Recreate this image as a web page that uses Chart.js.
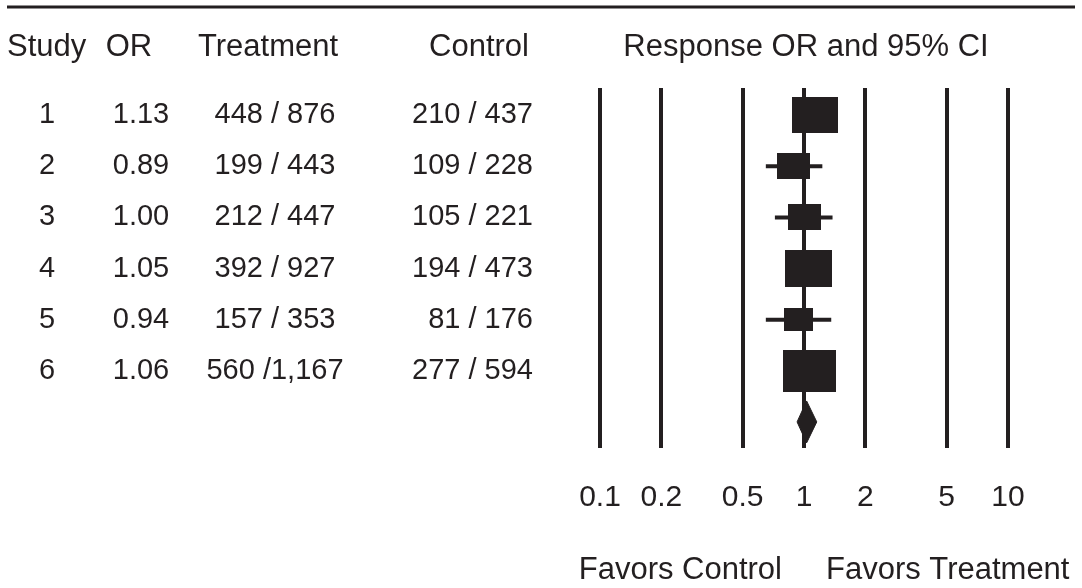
<!DOCTYPE html>
<html>
<head>
<meta charset="utf-8">
<script src="https://cdn.jsdelivr.net/npm/chart.js@4"></script>
<style>
  html, body { margin: 0; padding: 0; background: #fff; }
  canvas { display: block; }
</style>
</head>
<body>
<canvas id="forest" width="1082" height="588"></canvas>
<script>
const studies = ['1', '2', '3', '4', '5', '6'];
const oddsRatios = [1.13, 0.89, 1.00, 1.05, 0.94, 1.06];
const orLabels = ['1.13', '0.89', '1.00', '1.05', '0.94', '1.06'];
const ciLow = [0.90, 0.65, 0.72, 0.84, 0.65, 0.87];
const ciHigh = [1.42, 1.23, 1.38, 1.32, 1.36, 1.29];
const treatTotal = [876, 443, 447, 927, 353, 1167];
const ctrlTotal = [437, 228, 221, 473, 176, 594];
const treatLabels = ['448 / 876', '199 / 443', '212 / 447', '392 / 927', '157 / 353', '560 /1,167'];
const ctrlLabels = ['210 / 437', '109 / 228', '105 / 221', '194 / 473', '81 / 176', '277 / 594'];
const pooledOR = 1.03;
const pooledLow = 0.925;
const pooledHigh = 1.155;
const tickValues = [0.1, 0.2, 0.5, 1, 2, 5, 10];

const ink = '#231f20';
const family = '"Liberation Sans", Arial, sans-serif';
const headFont = '31px ' + family;
const rowFont = '29px ' + family;

// box area follows the study size
function makeBox(n) {
  const s = Math.sqrt(n);
  const c = document.createElement('canvas');
  c.width = Math.round(s * 1.265);
  c.height = Math.round(s);
  const g = c.getContext('2d');
  g.fillStyle = ink;
  g.fillRect(0, 0, c.width, c.height);
  return c;
}
const boxes = studies.map((_, i) => makeBox(treatTotal[i] + ctrlTotal[i]));

const pooledRow = studies.length + 1;
const diamond = [
  {x: pooledLow, y: pooledRow},
  {x: pooledOR, y: pooledRow - 0.41},
  {x: pooledHigh, y: pooledRow},
  {x: pooledOR, y: pooledRow + 0.41},
  {x: pooledLow, y: pooledRow}
];

const datasets = [{
  label: 'OR',
  data: oddsRatios.map((v, i) => ({x: v, y: i + 1})),
  pointStyle: boxes,
  pointRadius: 5,
  pointBorderWidth: 0,
  order: 0
}, {
  label: 'Pooled',
  data: diamond,
  showLine: true,
  fill: 'shape',
  backgroundColor: ink,
  borderColor: ink,
  borderWidth: 1,
  pointRadius: 0,
  order: 1
}];
studies.forEach((s, i) => {
  datasets.push({
    label: 'CI ' + s,
    data: [{x: ciLow[i], y: i + 1}, {x: ciHigh[i], y: i + 1}],
    showLine: true,
    borderColor: ink,
    borderWidth: 4,
    borderCapStyle: 'butt',
    pointRadius: 0,
    order: 2
  });
});

const tablePlugin = {
  id: 'table',
  afterDraw(chart) {
    const {ctx} = chart;
    const ys = chart.scales.y;
    const xs = chart.scales.x;
    ctx.save();
    ctx.fillStyle = ink;
    ctx.strokeStyle = ink;
    ctx.lineWidth = 3;
    ctx.beginPath();
    ctx.moveTo(7, 7);
    ctx.lineTo(1075, 7);
    ctx.stroke();

    ctx.font = headFont;
    ctx.textBaseline = 'middle';
    ctx.textAlign = 'left';
    ctx.fillText('Study', 7, 47);
    ctx.textAlign = 'center';
    ctx.fillText('OR', 129, 47);
    ctx.fillText('Treatment', 268, 47);
    ctx.fillText('Control', 479, 47);
    ctx.fillText('Response OR and 95% CI', 806, 47);

    ctx.font = rowFont;
    studies.forEach((s, i) => {
      const y = ys.getPixelForValue(i + 1);
      ctx.textAlign = 'center';
      ctx.fillText(s, 47, y);
      ctx.fillText(orLabels[i], 141, y);
      ctx.fillText(treatLabels[i], 275, y);
      ctx.textAlign = 'right';
      ctx.fillText(ctrlLabels[i], 533, y);
    });

    const one = xs.getPixelForValue(1);
    ctx.font = headFont;
    ctx.textAlign = 'right';
    ctx.fillText('Favors Control', one - 22, 570);
    ctx.textAlign = 'left';
    ctx.fillText('Favors Treatment', one + 22, 570);
    ctx.restore();
  }
};

new Chart('forest', {
  type: 'scatter',
  data: {datasets},
  options: {
    responsive: false,
    animation: false,
    devicePixelRatio: 1,
    layout: {padding: {left: 600, right: 74, top: 88, bottom: 40}},
    plugins: {legend: {display: false}, tooltip: {enabled: false}},
    scales: {
      x: {
        type: 'logarithmic',
        min: 0.1,
        max: 10,
        afterBuildTicks(scale) {
          scale.ticks = tickValues.map(v => ({value: v}));
        },
        grid: {color: ink, lineWidth: 4, drawTicks: false},
        border: {display: false},
        ticks: {
          color: ink,
          padding: 32,
          maxRotation: 0,
          autoSkip: false,
          font: {family: family, size: 30},
          callback: v => String(v)
        }
      },
      y: {
        type: 'linear',
        display: false,
        reverse: true,
        min: 0.47,
        max: 7.51
      }
    }
  },
  plugins: [tablePlugin]
});
</script>
</body>
</html>
